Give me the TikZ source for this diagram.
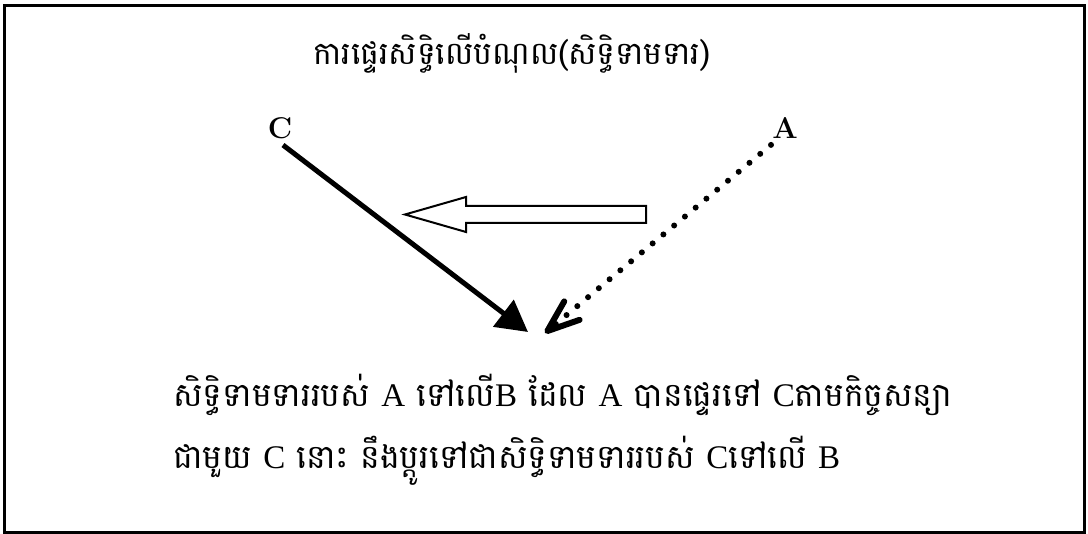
\documentclass[tikz,border=0pt]{standalone}
\usepackage{fontspec}
\newfontfamily\khmerfont[Script=Khmer]{Battambang}
\newfontfamily\latinfont{Liberation Serif}
\newcommand{\lat}[1]{{\latinfont\fontsize{16.5}{19}\selectfont #1}}
\usetikzlibrary{arrows.meta}

\begin{document}
\begin{tikzpicture}[x=0.5pt,y=-0.5pt,
  lbl/.style={font=\fontsize{15}{17}\selectfont\bfseries,inner sep=2pt},
  khtext/.style={font=\fontsize{16.5}{19}\selectfont\khmerfont,inner sep=0pt},
  solidarr/.style={-{Triangle[length=15.5pt,width=16.5pt]},line width=2.5pt},
  dotarr/.style={-{Straight Barb[length=16pt,width=12pt,round]},line width=3pt,line cap=round,dash pattern=on 0pt off 7pt}]
\useasboundingbox (0,0) rectangle (1088,534);
\draw[line width=1.5pt] (4.5,5.5) rectangle (1084.5,532);
\node[khtext,font=\fontsize{15.8}{18}\selectfont\khmerfont,anchor=base] (title) at (512,65) {ការផ្ទេរសិទ្ធិលើបំណុល(សិទ្ធិទាមទារ)};
\node[lbl] (c) at (280,128) {C};
\node[lbl] (a) at (785,128) {A};
\coordinate (tipc) at (528,332);
\coordinate (tipa) at (545,333);
\draw[solidarr] ([xshift=1.5pt,yshift=-1pt]c.south) -- (tipc);
\draw[dotarr] ([xshift=-7pt,yshift=-1pt]a.south) -- (tipa);
% hollow block arrow
\draw[line width=1pt,fill=white] (646,206) -- (466,206) -- (466,197) -- (405,214.5) -- (466,232) -- (466,223) -- (646,223) -- cycle;
\node[khtext,anchor=base west] (l1) at (173,407) {សិទ្ធិទាមទាររបស់ \lat{A} ទៅលើ\lat{B} ដែល \lat{A} បានផ្ទេរទៅ \lat{C}តាមកិច្ចសន្យា};
\node[khtext,anchor=base west] (l2) at (173,468) {ជាមួយ \lat{C} នោះ នឹងប្តូរទៅជាសិទ្ធិទាមទាររបស់ \lat{C}ទៅលើ \lat{B}};
\end{tikzpicture}
\end{document}
